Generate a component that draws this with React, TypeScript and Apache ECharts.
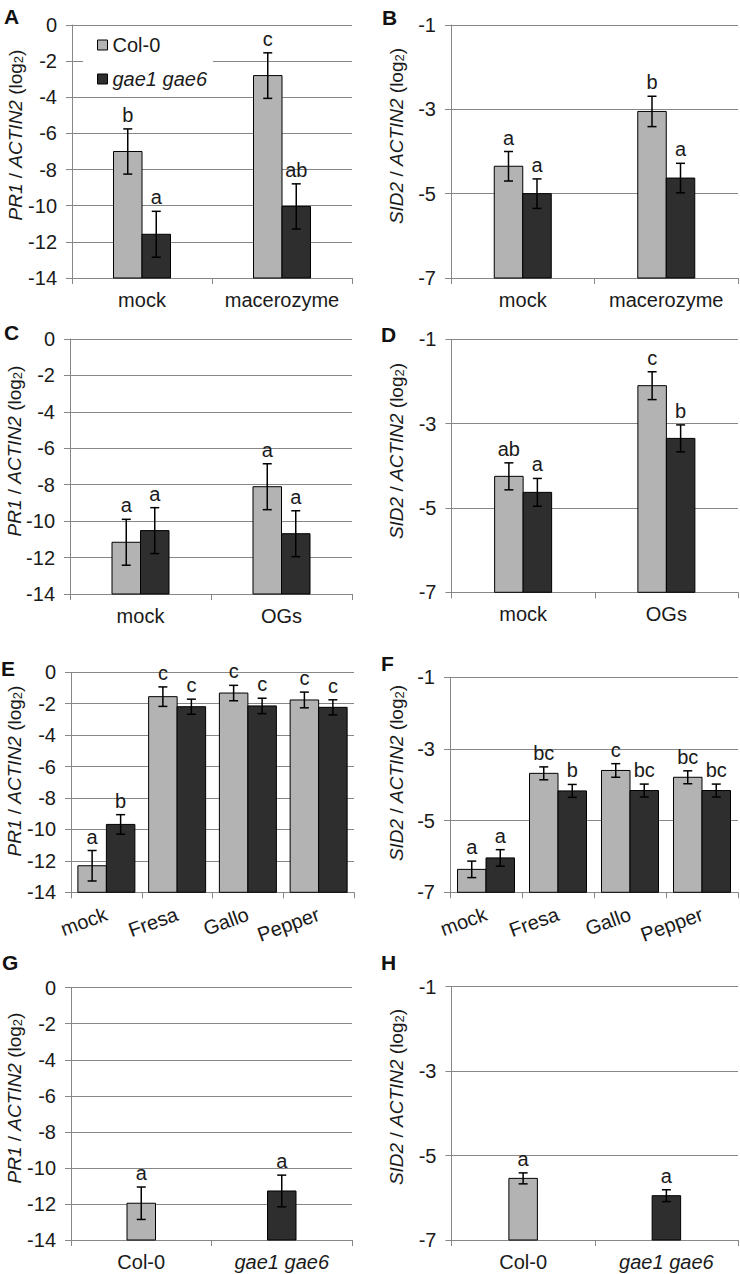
import React, { useEffect, useRef } from 'react';
import * as echarts from 'echarts';

const FONT = '"Liberation Sans", Arial, Helvetica, sans-serif';
const TEXT = '#1a1a1a';
const GRIDC = '#878787';
const LIGHT = '#b3b3b3';
const DARK = '#2e2e2e';
const BAR_W = 28.5;

const genotypes = ['Col-0', 'gae1 gae6'];

// Panel A: PR1, macerozyme
const catsA = ['mock', 'macerozyme'];
const colA = [-7.0, -2.8];
const colAErr = [1.25, 1.26];
const colALet = ['b', 'c'];
const gaeA = [-11.58, -10.04];
const gaeAErr = [1.27, 1.25];
const gaeALet = ['a', 'ab'];

// Panel B: SID2, macerozyme
const catsB = ['mock', 'macerozyme'];
const colB = [-4.35, -3.05];
const colBErr = [0.35, 0.36];
const colBLet = ['a', 'b'];
const gaeB = [-5.0, -4.63];
const gaeBErr = [0.35, 0.35];
const gaeBLet = ['a', 'a'];

// Panel C: PR1, OGs
const catsC = ['mock', 'OGs'];
const colC = [-11.16, -8.11];
const colCErr = [1.26, 1.26];
const colCLet = ['a', 'a'];
const gaeC = [-10.52, -10.69];
const gaeCErr = [1.26, 1.26];
const gaeCLet = ['a', 'a'];

// Panel D: SID2, OGs
const catsD = ['mock', 'OGs'];
const colD = [-4.25, -2.1];
const colDErr = [0.32, 0.33];
const colDLet = ['ab', 'c'];
const gaeD = [-4.63, -3.35];
const gaeDErr = [0.33, 0.32];
const gaeDLet = ['a', 'b'];

// Panel E: PR1, pathogens
const catsE = ['mock', 'Fresa', 'Gallo', 'Pepper'];
const colE = [-12.31, -1.55, -1.32, -1.76];
const colEErr = [0.97, 0.62, 0.49, 0.5];
const colELet = ['a', 'c', 'c', 'c'];
const gaeE = [-9.68, -2.19, -2.14, -2.23];
const gaeEErr = [0.62, 0.48, 0.49, 0.48];
const gaeELet = ['b', 'c', 'c', 'c'];

// Panel F: SID2, pathogens
const catsF = ['mock', 'Fresa', 'Gallo', 'Pepper'];
const colF = [-6.36, -3.68, -3.6, -3.79];
const colFErr = [0.23, 0.18, 0.19, 0.18];
const colFLet = ['a', 'bc', 'c', 'bc'];
const gaeF = [-6.04, -4.17, -4.16, -4.16];
const gaeFErr = [0.23, 0.18, 0.18, 0.18];
const gaeFLet = ['a', 'b', 'bc', 'bc'];

// Panel G: PR1, untreated genotypes
const catsG = ['Col-0', 'gae1 gae6'];
const valG = [-11.96, -11.28];
const errG = [0.9, 0.88];
const letG = ['a', 'a'];

// Panel H: SID2, untreated genotypes
const catsH = ['Col-0', 'gae1 gae6'];
const valH = [-5.54, -5.95];
const errH = [0.13, 0.14];
const letH = ['a', 'a'];

// Axis ranges / tick labels
const pr1Range = { min: -14, max: 0, interval: 2 };
const sid2Range = { min: -7, max: -1, interval: 2 };

type SeriesSpec = {
  name: string;
  vals: number[];
  errs: number[];
  lets: string[];
  colors: string[];
  offset: number;
};

type Panel = {
  tag: string;
  gene: string;
  cats: string[];
  range: { min: number; max: number; interval: number };
  grid: [number, number, number, number];
  rotate: number;
  titleXY: [number, number];
  tagXY: [number, number];
  series: SeriesSpec[];
};

const pair = (
  c: number[], ce: number[], cl: string[],
  g: number[], ge: number[], gl: string[]
): SeriesSpec[] => [
  { name: genotypes[0], vals: c, errs: ce, lets: cl, colors: c.map(() => LIGHT), offset: -BAR_W / 2 },
  { name: genotypes[1], vals: g, errs: ge, lets: gl, colors: g.map(() => DARK), offset: BAR_W / 2 },
];

const single = (v: number[], e: number[], l: string[]): SeriesSpec[] => [
  { name: 'genotype', vals: v, errs: e, lets: l, colors: [LIGHT, DARK], offset: 0 },
];

const panels: Panel[] = [
  { tag: 'A', gene: 'PR1', cats: catsA, range: pr1Range, grid: [72, 25, 280, 253], rotate: 0, titleXY: [15, 135], tagXY: [4, 16], series: pair(colA, colAErr, colALet, gaeA, gaeAErr, gaeALet) },
  { tag: 'B', gene: 'SID2', cats: catsB, range: sid2Range, grid: [451, 25, 287, 253], rotate: 0, titleXY: [396, 136], tagXY: [382, 17], series: pair(colB, colBErr, colBLet, gaeB, gaeBErr, gaeBLet) },
  { tag: 'C', gene: 'PR1', cats: catsC, range: pr1Range, grid: [70, 339, 282, 255], rotate: 0, titleXY: [14, 451], tagXY: [4, 332], series: pair(colC, colCErr, colCLet, gaeC, gaeCErr, gaeCLet) },
  { tag: 'D', gene: 'SID2', cats: catsD, range: sid2Range, grid: [451.5, 339.3, 286.5, 253], rotate: 0, titleXY: [396, 451], tagXY: [381, 334], series: pair(colD, colDErr, colDLet, gaeD, gaeDErr, gaeDLet) },
  { tag: 'E', gene: 'PR1', cats: catsE, range: pr1Range, grid: [71, 672.3, 283, 220], rotate: 20, titleXY: [14, 771], tagXY: [1, 668], series: pair(colE, colEErr, colELet, gaeE, gaeEErr, gaeELet) },
  { tag: 'F', gene: 'SID2', cats: catsF, range: sid2Range, grid: [450, 677.3, 288, 215], rotate: 20, titleXY: [396, 773], tagXY: [381, 663], series: pair(colF, colFErr, colFLet, gaeF, gaeFErr, gaeFLet) },
  { tag: 'G', gene: 'PR1', cats: catsG, range: pr1Range, grid: [71, 987.7, 281, 252.3], rotate: 0, titleXY: [14, 1098], tagXY: [2, 962], series: single(valG, errG, letG) },
  { tag: 'H', gene: 'SID2', cats: catsH, range: sid2Range, grid: [451.5, 986.7, 286.5, 253.3], rotate: 0, titleXY: [396, 1097], tagXY: [381, 962], series: single(valH, errH, letH) },
];

const makeRender = (p: Panel, spec: SeriesSpec) => (params: any, api: any) => {
  const k = params.dataIndex;
  const ci = api.value(0) as number;
  const v = api.value(1) as number;
  const e = api.value(2) as number;
  const base = api.coord([ci, p.range.min]);
  const top = api.coord([ci, v]);
  const xc = top[0] + spec.offset;
  const hi = api.coord([ci, v + e])[1];
  const lo = api.coord([ci, v - e])[1];
  const cap = 4.5;
  const errStyle = { stroke: '#000', lineWidth: 1.5 };
  return {
    type: 'group',
    children: [
      {
        type: 'rect',
        shape: { x: xc - BAR_W / 2, y: top[1], width: BAR_W, height: base[1] - top[1] },
        style: { fill: spec.colors[k], stroke: '#000', lineWidth: 1 },
      },
      { type: 'line', shape: { x1: xc, y1: hi, x2: xc, y2: lo }, style: errStyle },
      { type: 'line', shape: { x1: xc - cap, y1: hi, x2: xc + cap, y2: hi }, style: errStyle },
      { type: 'line', shape: { x1: xc - cap, y1: lo, x2: xc + cap, y2: lo }, style: errStyle },
      {
        type: 'text',
        style: {
          text: spec.lets[k],
          x: xc,
          y: hi - 4,
          align: 'center',
          verticalAlign: 'bottom',
          textAlign: 'center',
          textVerticalAlign: 'bottom',
          fontSize: 20,
          fontFamily: FONT,
          fill: TEXT,
        },
      },
    ],
  };
};

const titleRich = {
  i: { fontStyle: 'italic', fontSize: 19, fontFamily: FONT, fill: TEXT, color: TEXT },
  n: { fontSize: 19, fontFamily: FONT, fill: TEXT, color: TEXT },
  s: { fontSize: 13, fontFamily: FONT, fill: TEXT, color: TEXT, verticalAlign: 'bottom', padding: [6, 0, 0, 0] },
};

const buildOption = () => {
  const grid = panels.map((p) => ({
    left: p.grid[0],
    top: p.grid[1],
    width: p.grid[2],
    height: p.grid[3],
    containLabel: false,
  }));
  const xAxis = panels.map((p, i) => ({
    type: 'category',
    gridIndex: i,
    data: p.cats,
    boundaryGap: true,
    axisLine: { show: true, onZero: false, lineStyle: { color: GRIDC, width: 1 } },
    axisTick: { show: true, length: 6, lineStyle: { color: GRIDC, width: 1 } },
    axisLabel: {
      interval: 0,
      rotate: p.rotate,
      margin: p.rotate ? 21 : 12,
      fontSize: 20,
      color: TEXT,
      fontFamily: FONT,
      formatter: (v: string) => (v === 'gae1 gae6' ? '{i|gae1 gae6}' : v),
      rich: { i: { fontStyle: 'italic', fontSize: 20, color: TEXT, fontFamily: FONT } },
    },
    splitLine: { show: false },
  }));
  const yAxis = panels.map((p, i) => ({
    type: 'value',
    gridIndex: i,
    min: p.range.min,
    max: p.range.max,
    interval: p.range.interval,
    axisLine: { show: true, lineStyle: { color: GRIDC, width: 1 } },
    axisTick: { show: true, length: 6, lineStyle: { color: GRIDC, width: 1 } },
    axisLabel: { fontSize: 20, color: TEXT, fontFamily: FONT, margin: 15 },
    splitLine: { show: true, lineStyle: { color: GRIDC, width: 1 } },
  }));
  const series: any[] = [];
  panels.forEach((p, i) => {
    p.series.forEach((s) => {
      series.push({
        type: 'custom',
        name: s.name,
        xAxisIndex: i,
        yAxisIndex: i,
        z: 3,
        itemStyle: { color: s.colors[0], borderColor: '#000', borderWidth: 1 },
        encode: { x: 0, y: 1 },
        data: s.vals.map((v, k) => [k, v, s.errs[k]]),
        renderItem: makeRender(p, s),
      });
    });
  });
  const graphic: any[] = [];
  panels.forEach((p) => {
    graphic.push({
      type: 'text',
      x: p.tagXY[0],
      y: p.tagXY[1],
      style: {
        text: p.tag,
        fontSize: 21,
        fontWeight: 'bold',
        fontFamily: FONT,
        fill: '#111',
        align: 'left',
        verticalAlign: 'middle',
        textAlign: 'left',
        textVerticalAlign: 'middle',
      },
    });
    graphic.push({
      type: 'text',
      x: p.titleXY[0],
      y: p.titleXY[1],
      rotation: Math.PI / 2,
      style: {
        text: `{i|${p.gene}}{n| / }{i|ACTIN2}{n| (log}{s|2}{n|)}`,
        rich: titleRich,
        fontSize: 19,
        fontFamily: FONT,
        fill: TEXT,
        align: 'center',
        verticalAlign: 'middle',
        textAlign: 'center',
        textVerticalAlign: 'middle',
      },
    });
  });
  return {
    animation: false,
    backgroundColor: '#ffffff',
    textStyle: { fontFamily: FONT },
    grid,
    xAxis,
    yAxis,
    series,
    graphic,
    legend: {
      show: true,
      left: 83,
      top: 35,
      orient: 'vertical',
      icon: 'rect',
      itemWidth: 10,
      itemHeight: 10,
      itemGap: 14,
      padding: [0, 6, 0, 14],
      backgroundColor: '#ffffff',
      selectedMode: false,
      z: 10,
      data: [
        { name: genotypes[0], itemStyle: { color: LIGHT, borderColor: '#000', borderWidth: 1 } },
        { name: genotypes[1], itemStyle: { color: DARK, borderColor: '#000', borderWidth: 1 } },
      ],
      formatter: (name: string) => (name === 'gae1 gae6' ? '{i|gae1 gae6}' : name),
      textStyle: {
        fontSize: 20,
        color: TEXT,
        fontFamily: FONT,
        rich: { i: { fontStyle: 'italic', fontSize: 20, color: TEXT, fontFamily: FONT } },
      },
    },
  };
};

export default function App() {
  const ref = useRef<HTMLDivElement | null>(null);
  useEffect(() => {
    if (!ref.current) return;
    const chart = echarts.init(ref.current, undefined, { renderer: 'svg' });
    chart.setOption(buildOption() as any);
    return () => {
      chart.dispose();
    };
  }, []);
  return (
    <div
      ref={ref}
      style={{ position: 'absolute', left: 0, top: 0, width: 740, height: 1274, background: '#fff' }}
    />
  );
}
